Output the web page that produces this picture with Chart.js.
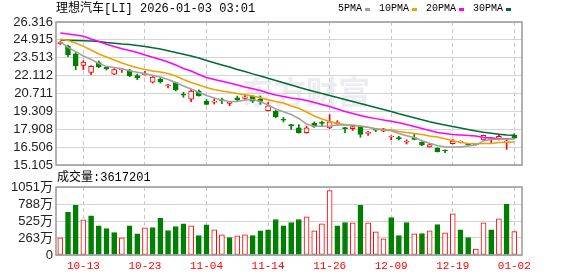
<!DOCTYPE html>
<html>
<head>
<meta charset="utf-8">
<script src="https://cdn.jsdelivr.net/npm/chart.js@4.4.1/dist/chart.umd.min.js"></script>
<style>
  body { margin: 0; background: #fff; width: 578px; height: 276px; overflow: hidden; position: relative; }
  canvas { position: absolute; left: 0; top: 0; }
  .txt { position: absolute; z-index: 2; white-space: nowrap; font-family: "Liberation Mono", "Noto Sans CJK SC", monospace; font-size: 12px; line-height: 14px; color: #000; }
  #legend { display: flex; align-items: center; font-size: 10px; }
  #legend i { display: inline-block; width: 5px; height: 3px; margin: 0 9px 0 3px; }
</style>
</head>
<body>
<div id="title" class="txt" style="left:56px;top:2px"></div>
<div id="legend" class="txt" style="left:338px;top:2px"></div>
<div id="volTitle" class="txt" style="left:57px;top:171px"></div>
<canvas id="price" width="578" height="276"></canvas>
<canvas id="volume" width="578" height="276"></canvas>
<script>
// trading days shown
const dates = ["10-08","10-09","10-10","10-13","10-14","10-15","10-16","10-17","10-20","10-21",
  "10-22","10-23","10-24","10-27","10-28","10-29","10-30","10-31","11-03","11-04",
  "11-05","11-06","11-07","11-10","11-11","11-12","11-13","11-14","11-17","11-18",
  "11-19","11-20","11-21","11-24","11-25","11-26","11-28","12-01","12-02","12-03",
  "12-04","12-05","12-08","12-09","12-10","12-11","12-12","12-15","12-16","12-17",
  "12-18","12-19","12-22","12-23","12-24","12-26","12-29","12-30","12-31","01-02"];
const tickDates = ["10-13","10-23","11-04","11-14","11-26","12-09","12-19","01-02"];

const opens = [24.62,24.41,23.83,22.92,22.37,23.13,22.79,22.22,22.55,22.50,
  22.11,22.18,21.59,21.82,21.32,21.56,20.67,20.26,20.91,20.12,
  20.04,20.20,19.93,20.38,20.33,20.51,20.26,19.36,19.34,18.69,
  18.27,18.01,17.64,18.37,18.45,18.01,18.35,18.03,17.95,18.08,
  17.59,17.93,17.75,17.30,17.25,16.89,17.25,16.89,16.52,16.44,
  16.24,16.78,16.90,16.75,16.70,17.07,17.15,17.15,16.89,17.46];
const highs = [24.80,24.50,23.91,23.28,22.90,23.26,22.84,22.66,22.63,22.61,
  22.24,22.45,22.14,21.95,21.42,21.60,20.80,21.04,21.00,20.23,
  20.28,20.36,20.06,20.51,20.62,20.55,20.51,19.99,19.38,18.84,
  18.29,18.27,18.16,18.48,18.55,19.05,18.58,18.05,18.13,18.16,
  17.75,17.98,17.98,17.40,17.36,17.09,17.51,16.92,16.72,16.46,
  16.30,17.10,16.99,16.78,16.80,17.45,17.28,17.53,17.14,17.56];
const lows = [24.55,23.60,22.58,22.58,22.19,22.73,22.55,22.19,22.37,22.03,
  21.79,22.14,21.53,21.53,21.14,20.91,20.41,20.07,20.50,19.82,
  19.89,19.91,19.75,20.15,20.26,20.00,19.86,19.34,18.81,18.48,
  17.90,17.60,17.60,18.05,18.11,17.95,18.24,17.64,17.82,17.28,
  17.43,17.72,17.72,17.07,17.07,16.75,17.07,16.62,16.50,16.12,
  16.08,16.74,16.83,16.66,16.68,17.05,16.86,17.07,16.33,17.18];
const closes = [24.75,23.75,22.89,23.18,22.84,22.81,22.63,22.58,22.61,22.11,
  21.93,22.26,22.00,21.63,21.40,20.99,20.57,20.91,20.54,19.86,
  20.10,20.15,20.04,20.22,20.44,20.10,20.08,19.75,18.89,18.61,
  18.16,17.64,18.01,18.11,18.37,18.48,18.40,17.93,18.11,17.51,
  17.64,17.83,17.95,17.38,17.17,16.94,17.12,16.65,16.70,16.15,
  16.20,16.99,16.93,16.68,16.78,17.43,17.18,17.36,16.99,17.20];

// volume in 万 shares
const volumes = [264,658,767,544,606,451,409,347,264,451,
  326,420,425,565,378,440,482,451,300,466,
  389,311,269,295,311,300,373,389,549,451,
  502,549,591,373,482,995,451,502,497,767,
  497,357,249,580,300,502,326,332,373,471,
  342,637,389,269,93,497,389,559,782,362];
const lastVolume = 3617201;

const ma5 = [24.77,24.32,24.00,23.65,23.39,23.06,22.84,22.75,22.66,22.49,
  22.37,22.28,22.12,22.00,21.81,21.57,21.30,21.06,20.79,20.55,
  20.36,20.18,20.08,20.08,20.20,20.24,20.08,19.81,19.50,19.28,
  19.06,18.75,18.32,18.15,18.15,18.16,18.24,18.24,18.22,18.16,
  18.06,17.93,17.85,17.79,17.57,17.40,17.26,17.01,16.81,16.63,
  16.52,16.52,16.52,16.59,16.67,16.99,17.10,17.14,17.14,17.18];
const ma10 = [24.98,24.87,24.67,24.40,24.12,23.81,23.57,23.34,23.10,22.91,
  22.73,22.59,22.47,22.40,22.28,22.08,21.81,21.57,21.38,21.18,
  21.02,20.91,20.80,20.71,20.62,20.51,20.37,20.22,20.08,19.97,
  19.73,19.55,19.26,18.95,18.71,18.51,18.36,18.28,18.22,18.16,
  18.06,17.95,17.89,17.85,17.73,17.65,17.57,17.50,17.38,17.30,
  17.16,17.01,16.88,16.80,16.77,16.79,16.80,16.87,16.89,16.91];
const ma20 = [25.45,25.38,25.30,25.20,24.98,24.79,24.57,24.40,24.22,24.08,
  23.93,23.73,23.55,23.38,23.18,22.95,22.67,22.47,22.20,21.96,
  21.81,21.67,21.53,21.38,21.22,21.08,20.95,20.75,20.59,20.48,
  20.36,20.28,20.16,20.01,19.85,19.69,19.50,19.30,19.14,18.99,
  18.85,18.74,18.63,18.54,18.41,18.28,18.12,17.96,17.81,17.66,
  17.57,17.49,17.46,17.42,17.38,17.26,17.22,17.18,17.17,17.17];
const ma30 = [24.90,24.89,24.87,24.85,24.83,24.79,24.71,24.65,24.59,24.55,
  24.47,24.40,24.29,24.20,24.06,23.93,23.79,23.65,23.49,23.30,
  23.12,22.95,22.79,22.59,22.44,22.25,22.08,21.90,21.73,21.55,
  21.38,21.20,21.02,20.87,20.71,20.55,20.40,20.24,20.08,19.93,
  19.77,19.61,19.46,19.30,19.12,18.96,18.81,18.65,18.49,18.36,
  18.24,18.12,18.00,17.89,17.77,17.67,17.59,17.51,17.46,17.43];

const priceTicks = [15.105,16.506,17.908,19.309,20.711,22.112,23.513,24.915,26.316];
const volTicks = [0,263,525,788,1051];
const maNames = ["5PMA","10PMA","20PMA","30PMA"];
const maColors = ["#a0a0a0","#f0a000","#ff00ff","#006b33"];

const RED = "#ff0000";
const GREEN = "#008000";

// header texts
document.getElementById("title").textContent = "理想汽车[LI] 2026-01-03 03:01";
document.getElementById("volTitle").textContent = "成交量:" + lastVolume;
document.getElementById("legend").innerHTML = maNames.map((n, k) =>
  `<span>${n}</span><i style="background:${maColors[k]}"></i>`).join("");

Chart.defaults.font.family = '"Liberation Sans","Noto Sans CJK SC",sans-serif';
Chart.defaults.animation = false;

const tickIdx = tickDates.map(d => dates.indexOf(d));
const candleUp = i => closes[i] >= opens[i];
const volUp = i => i === 0 || closes[i] >= closes[i - 1];

// draws the plot box and the watermark
const framePlugin = {
  id: "frame",
  beforeDatasetsDraw(chart, args, opts) {
    if (!opts.mark) return;
    const ctx = chart.ctx;
    ctx.save();
    ctx.fillStyle = "rgba(190,190,205,0.28)";
    ctx.font = 'bold 32px "Noto Sans CJK SC"';
    ctx.textBaseline = "middle";
    ctx.fillText(opts.mark, 242, 92);
    ctx.restore();
  },
  afterDatasetsDraw(chart) {
    const a = chart.chartArea, ctx = chart.ctx;
    ctx.save();
    ctx.strokeStyle = "#999";
    ctx.lineWidth = 1.5;
    ctx.strokeRect(a.left, a.top, a.right - a.left, a.bottom - a.top);
    ctx.restore();
  }
};

const xScale = (showLabels) => ({
  type: "linear",
  offset: false,
  min: -0.56,
  max: 60,
  afterBuildTicks: s => { s.ticks = tickIdx.map(v => ({ value: v })); },
  afterFit: s => { s.height = showLabels ? 21 : 0; },
  ticks: {
    display: showLabels,
    color: RED,
    padding: 4,
    maxRotation: 0,
    autoSkip: false,
    font: { size: 11, family: '"Liberation Mono",monospace' },
    callback: v => dates[v]
  },
  grid: { color: "#c8c8c8", drawTicks: false, offset: false },
  border: { display: false, dash: [4, 3] }
});

const yScale = (min, max, ticks, fmt) => ({
  min: min,
  max: max,
  afterBuildTicks: s => { s.ticks = ticks.map(v => ({ value: v })); },
  afterFit: s => { s.width = 56; },
  ticks: { color: "#222", padding: 3, autoSkip: false, font: { size: 13 }, callback: fmt },
  grid: { color: "#d4d4d4", drawTicks: false },
  border: { display: false }
});

new Chart(document.getElementById("price"), {
  type: "bar",
  plugins: [framePlugin],
  data: {
    datasets: [
      {
        label: "wick",
        order: 3,
        grouped: false,
        barThickness: 1,
        data: dates.map((d, i) => ({ x: i, y: [lows[i], highs[i]] })),
        backgroundColor: c => candleUp(c.dataIndex) ? RED : GREEN
      },
      {
        label: "body",
        order: 2,
        grouped: false,
        barThickness: 5,
        minBarLength: 1,
        borderWidth: 1,
        borderSkipped: false,
        data: dates.map((d, i) => ({ x: i, y: [opens[i], closes[i]] })),
        backgroundColor: c => candleUp(c.dataIndex) ? "#ffffff" : GREEN,
        borderColor: c => candleUp(c.dataIndex) ? RED : GREEN
      },
      ...[ma5, ma10, ma20, ma30].map((arr, k) => ({
        type: "line",
        label: maNames[k],
        order: 1,
        data: arr.map((v, i) => ({ x: i, y: v })),
        borderColor: maColors[k],
        borderWidth: 1.5,
        pointRadius: 0,
        tension: 0
      }))
    ]
  },
  options: {
    responsive: false,
    devicePixelRatio: 1,
    layout: { padding: { left: 0, right: 56, top: 22, bottom: 111 } },
    plugins: { legend: { display: false }, tooltip: { enabled: false }, frame: { mark: "东方财富" } },
    scales: {
      x: xScale(false),
      y: yScale(15.105, 26.316, priceTicks, v => v.toFixed(3))
    }
  }
});

new Chart(document.getElementById("volume"), {
  type: "bar",
  plugins: [framePlugin],
  data: {
    datasets: [{
      label: "成交量",
      barThickness: 5,
      borderWidth: 1,
      borderSkipped: false,
      data: volumes.map((v, i) => ({ x: i, y: v })),
      backgroundColor: c => volUp(c.dataIndex) ? "#ffffff" : GREEN,
      borderColor: c => volUp(c.dataIndex) ? RED : GREEN
    }]
  },
  options: {
    responsive: false,
    devicePixelRatio: 1,
    layout: { padding: { left: 0, right: 56, top: 187, bottom: 0 } },
    plugins: { legend: { display: false }, tooltip: { enabled: false }, frame: { mark: "" } },
    scales: {
      x: xScale(true),
      y: yScale(0, 1051, volTicks, v => v === 0 ? "0" : v + "万")
    }
  }
});
</script>
</body>
</html>
